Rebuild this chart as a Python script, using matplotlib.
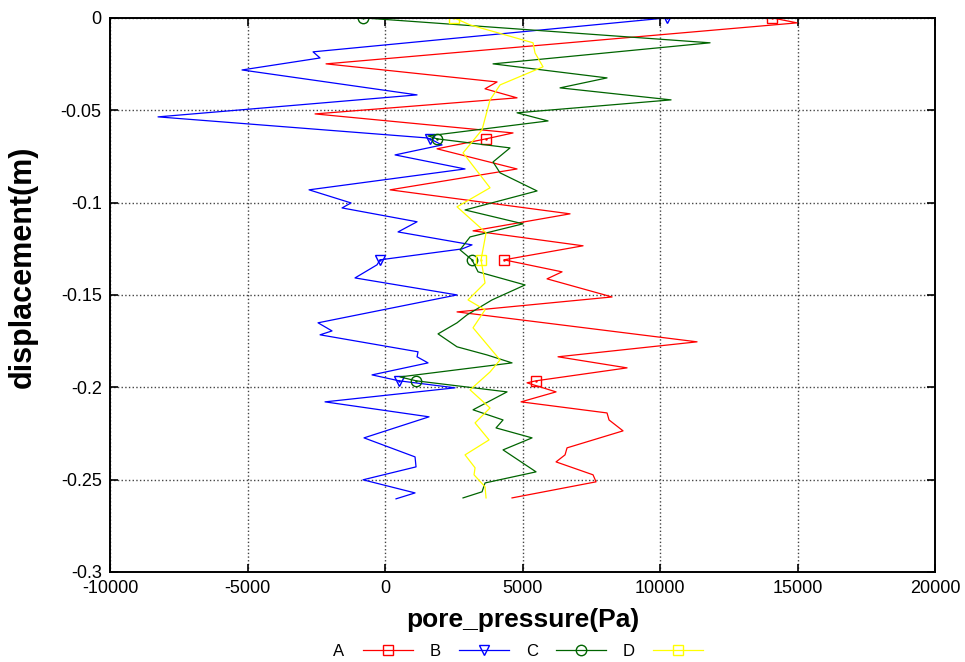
import matplotlib
matplotlib.use("Agg")
import matplotlib.pyplot as plt
import numpy as np

plt.rcParams['font.family'] = ['Liberation Sans', 'DejaVu Sans']
plt.rcParams['axes.unicode_minus'] = False

# pore pressure (Pa) and displacement (m)
a_pa = [14073, 14982, -2145, 4073, 3636, 4800, -2545, 4654, 3673, 1891, 4800, 182,
        6727, 3200, 7200, 4327, 6436, 5891, 8254, 2618, 11345, 6290, 8800, 5490,
        5163, 6218, 4945, 8072, 8145, 8654, 6618, 6545, 6218, 7563, 7672, 4618]
a_m = [0, -0.0027, -0.0249, -0.0347, -0.0384, -0.0433, -0.052, -0.0623, -0.0655, -0.0709,
       -0.0818, -0.0931, -0.1061, -0.1153, -0.1234, -0.131, -0.1375, -0.1413, -0.1511,
       -0.1592, -0.1754, -0.1835, -0.1895, -0.1965, -0.1976, -0.2025, -0.2079, -0.2139,
       -0.2177, -0.2236, -0.2328, -0.2366, -0.2404, -0.2474, -0.2512, -0.2599]
a_marks = [0, 8, 15, 23]

b_pa = [10250, -2618, -2363, -5200, 1164, -8254, 1527, 1636, 2073, 364, 2909, -2763,
        -1236, -1563, 1164, 473, 3163, 2800, -182, -291, -1091, 2618, -2436, -1927,
        -2363, 1200, 1164, 1563, -473, 509, 2545, -2182, 1600, -764, 1091, 1127, -800,
        1091, 400]
b_m = [0, -0.0184, -0.0217, -0.0282, -0.0417, -0.0536, -0.065, -0.0655, -0.0688, -0.0742,
       -0.0818, -0.0931, -0.1002, -0.1029, -0.1104, -0.1159, -0.1229, -0.1251, -0.131,
       -0.1337, -0.1408, -0.15, -0.1651, -0.1695, -0.1716, -0.1808, -0.1835, -0.1868,
       -0.1933, -0.1965, -0.2003, -0.2079, -0.216, -0.2274, -0.2377, -0.2431, -0.2501,
       -0.2572, -0.2604]
b_marks = [0, 7, 18, 29]

c_pa = [-800, 11818, 3927, 8072, 6363, 10400, 4800, 5927, 1564, 1891, 4545, 3927, 4182,
        5527, 2909, 5018, 3091, 2727, 3163, 3382, 5091, 3891, 2982, 2618, 1927, 2618,
        3709, 4618, 545, 1127, 4436, 3200, 4291, 4036, 5345, 4291, 5491, 3636, 3527, 2836]
c_m = [0, -0.0135, -0.0249, -0.0325, -0.0379, -0.0444, -0.0514, -0.0558, -0.0639, -0.0655,
       -0.0704, -0.078, -0.0839, -0.0937, -0.104, -0.1115, -0.1186, -0.1256, -0.131,
       -0.1375, -0.1446, -0.1527, -0.1608, -0.1651, -0.1711, -0.1781, -0.1825, -0.1868,
       -0.1944, -0.1965, -0.2025, -0.2122, -0.2177, -0.222, -0.2274, -0.2339, -0.2458,
       -0.2518, -0.2566, -0.2599]
c_marks = [0, 9, 18, 29]

d_pa = [2509, 3091, 5381, 5454, 5745, 4182, 3818, 3527, 2836, 3818, 2618, 3673, 3491,
        3636, 3018, 3636, 3200, 4182, 3818, 3091, 3818, 3273, 3782, 2909, 3273, 3236,
        3636, 3673]
d_m = [0, -0.0038, -0.0135, -0.019, -0.0265, -0.0363, -0.0444, -0.0606, -0.0731, -0.092,
       -0.1023, -0.1164, -0.131, -0.1435, -0.1527, -0.1581, -0.1678, -0.1852, -0.1917,
       -0.2014, -0.2112, -0.2193, -0.2285, -0.2366, -0.2436, -0.2474, -0.2539, -0.2599]
d_marks = [0, 12]

x_ticks = [-10000, -5000, 0, 5000, 10000, 15000, 20000]
y_ticks = [0, -0.05, -0.1, -0.15, -0.2, -0.25, -0.3]
y_labels = ['0', '-0.05', '-0.1', '-0.15', '-0.2', '-0.25', '-0.3']

fig = plt.figure(figsize=(9.65, 6.62), dpi=100)
ax = fig.add_axes([0.114, 0.136, 0.855, 0.837])

series = [
    ('A', a_pa, a_m, a_marks, '#ff0000', 's', 7.5),
    ('B', b_pa, b_m, b_marks, '#0000ff', 'v', 7.5),
    ('C', c_pa, c_m, c_marks, '#006400', 'o', 7.5),
    ('D', d_pa, d_m, d_marks, '#ffff00', 's', 7.5),
]
for name, xs, ys, marks, col, mk, ms in series:
    ax.plot(xs, ys, color=col, lw=0.9, marker=mk, markevery=marks, ms=ms,
            mfc='none', mec=col, mew=1.0, label=name, solid_joinstyle='round')
    ax.plot(xs, ys, ls='none', marker='.', markevery=marks, ms=1.5, color=col)

ax.set_xlim(-10000, 20000)
ax.set_ylim(-0.3, 0)
ax.set_xticks(x_ticks)
ax.set_xticklabels([str(v) for v in x_ticks])
ax.set_yticks(y_ticks)
ax.set_yticklabels(y_labels)
ax.tick_params(direction='in', length=6, width=1.2, top=True, right=True,
               labelsize=13, pad=6)
ax.grid(True, ls=':', color='#444444', lw=1.0)
for s in ax.spines.values():
    s.set_linewidth(1.4)

ax.set_xlabel('pore_pressure(Pa)', fontsize=19, fontweight='bold', labelpad=8)
ax.set_ylabel('displacement(m)', fontsize=22, fontweight='bold')
ax.yaxis.set_label_coords(-0.088, 0.55)

fig.legend(loc='lower center', bbox_to_anchor=(0.537, -0.018), ncol=4, frameon=False,
           markerfirst=False, numpoints=1, handlelength=3.0, columnspacing=1.0,
           handletextpad=1.1, fontsize=12)

fig.savefig('out.png', dpi=100)
